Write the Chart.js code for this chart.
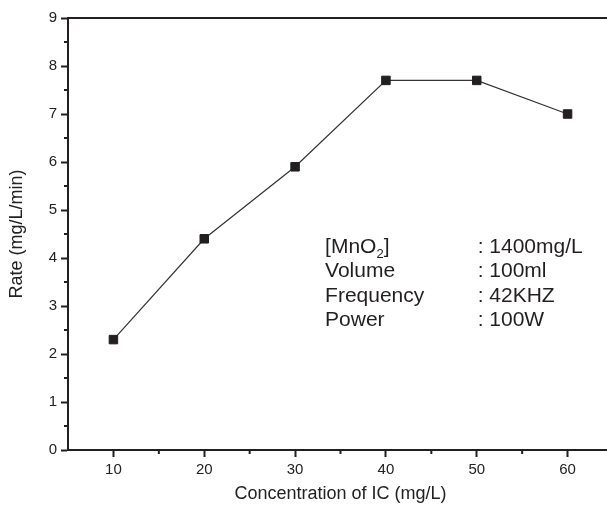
<!DOCTYPE html>
<html>
<head>
<meta charset="utf-8">
<script src="https://cdn.jsdelivr.net/npm/chart.js@4/dist/chart.umd.min.js"></script>
<style>
    html, body { margin: 0; padding: 0; overflow: hidden; background: #fff; }
    #wrap { width: 630px; height: 506px; }
</style>
</head>
<body>
<div id="wrap"><canvas id="rateChart" width="630" height="506"></canvas></div>
<script>
const concentrations = [10, 20, 30, 40, 50, 60];
const rates = [2.3, 4.4, 5.9, 7.7, 7.7, 7.0];
const xMinorTicks = [15, 25, 35, 45, 55];
const yMinorTicks = [0.5, 1.5, 2.5, 3.5, 4.5, 5.5, 6.5, 7.5, 8.5];
const conditionLabels = ['[MnO|2|]', 'Volume', 'Frequency', 'Power'];
const conditionValues = [': 1400mg/L', ': 100ml', ': 42KHZ', ': 100W'];

const INK = '#231f20';
const FONT = "'Liberation Sans', Arial, sans-serif";

// top frame line + short minor ticks outside the axes
const framePlugin = {
    id: 'frame',
    afterDraw(chart) {
        const ctx = chart.ctx;
        const area = chart.chartArea;
        const xs = chart.scales.x, ys = chart.scales.y;
        ctx.save();
        ctx.strokeStyle = INK;
        ctx.lineWidth = 2;
        ctx.beginPath();
        ctx.moveTo(area.left - 1, area.top);
        ctx.lineTo(area.right + 20, area.top);
        ctx.stroke();
        ctx.beginPath();
        xMinorTicks.forEach(v => {
            const px = xs.getPixelForValue(v);
            ctx.moveTo(px, area.bottom);
            ctx.lineTo(px, area.bottom + 4);
        });
        yMinorTicks.forEach(v => {
            const py = ys.getPixelForValue(v);
            ctx.moveTo(area.left, py);
            ctx.lineTo(area.left - 4, py);
        });
        ctx.stroke();
        ctx.restore();
    }
};

// experimental conditions text block
const conditionsPlugin = {
    id: 'conditions',
    afterDraw(chart) {
        const ctx = chart.ctx;
        const xs = chart.scales.x, ys = chart.scales.y;
        const labelX = xs.getPixelForValue(33.3);
        const valueX = xs.getPixelForValue(50.1);
        ctx.save();
        ctx.fillStyle = '#231f20';
        ctx.textBaseline = 'middle';
        ctx.textAlign = 'left';
        conditionLabels.forEach((label, i) => {
            const y = ys.getPixelForValue(4.22 - i * 0.505);
            const parts = label.split('|');
            let x = labelX;
            parts.forEach((part, j) => {
                const sub = j === 1;
                ctx.font = (sub ? '13px ' : '21px ') + FONT;
                ctx.fillText(part, x, sub ? y + 7 : y);
                x += ctx.measureText(part).width;
            });
            ctx.font = '21px ' + FONT;
            ctx.fillText(conditionValues[i], valueX, y);
        });
        ctx.restore();
    }
};

const ctx = document.getElementById('rateChart').getContext('2d');
new Chart(ctx, {
    type: 'line',
    data: {
        datasets: [{
            data: concentrations.map((c, i) => ({ x: c, y: rates[i] })),
            borderColor: '#333',
            borderWidth: 1.2,
            pointStyle: 'rect',
            pointRadius: 6,
            pointBorderWidth: 1,
            pointBackgroundColor: INK,
            pointBorderColor: INK,
            tension: 0
        }]
    },
    options: {
        responsive: false,
        animation: false,
        events: [],
        layout: { padding: { top: 18, right: 17, left: 0, bottom: 0 } },
        plugins: {
            legend: { display: false },
            tooltip: { enabled: false }
        },
        scales: {
            x: {
                type: 'linear',
                min: 5,
                max: 65,
                afterBuildTicks: scale => {
                    scale.ticks = concentrations.map(v => ({ value: v }));
                },
                afterFit: scale => { scale.height = 56; },
                border: { color: INK, width: 2 },
                grid: {
                    drawOnChartArea: false,
                    tickLength: 7,
                    tickWidth: 2,
                    tickColor: INK
                },
                ticks: {
                    padding: 4,
                    maxRotation: 0,
                    color: '#222',
                    font: { family: FONT, size: 15 }
                },
                title: {
                    display: true,
                    text: 'Concentration of IC (mg/L)',
                    color: '#222',
                    font: { family: FONT, size: 18 },
                    padding: { top: 0, bottom: 1 }
                }
            },
            y: {
                min: 0,
                max: 9,
                ticks: {
                    stepSize: 1,
                    padding: 4,
                    color: '#222',
                    font: { family: FONT, size: 15 }
                },
                afterFit: scale => { scale.width = 68; },
                border: { color: INK, width: 2 },
                grid: {
                    drawOnChartArea: false,
                    tickLength: 7,
                    tickWidth: 2,
                    tickColor: INK
                },
                title: {
                    display: true,
                    text: 'Rate (mg/L/min)',
                    color: '#222',
                    font: { family: FONT, size: 18 },
                    padding: { top: 6, bottom: 0 }
                }
            }
        }
    },
    plugins: [framePlugin, conditionsPlugin]
});
</script>
</body>
</html>
